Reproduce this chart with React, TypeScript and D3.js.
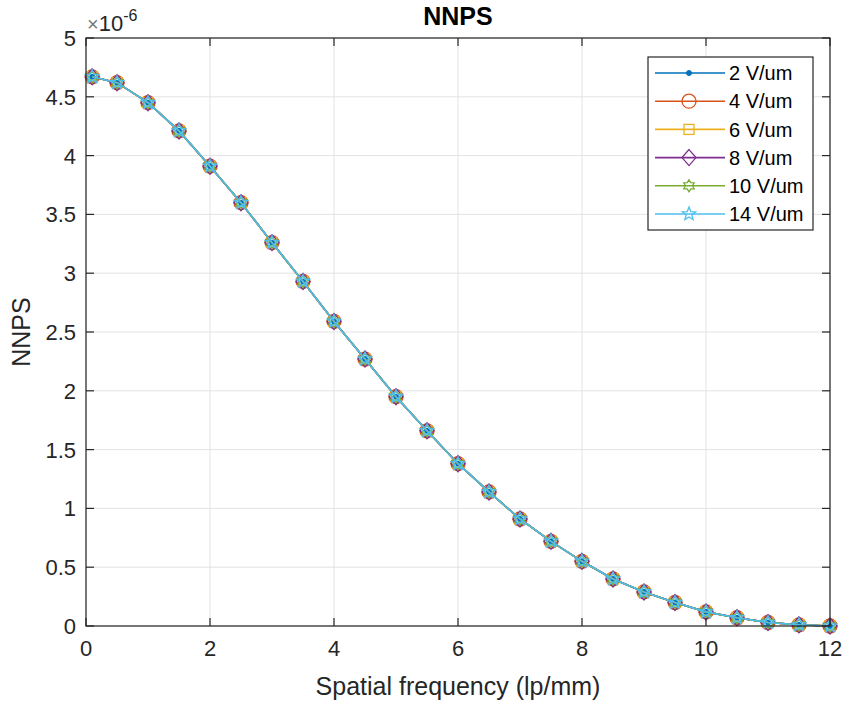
import React from "react";
import * as d3 from "d3";

// spatial frequency (lp/mm)
const freqs = [0.1, 0.5, 1, 1.5, 2, 2.5, 3, 3.5, 4, 4.5, 5, 5.5, 6, 6.5, 7, 7.5, 8, 8.5, 9, 9.5, 10, 10.5, 11, 11.5, 12];
// NNPS values (x 1e-6) - all fields overlap in the figure
const nnps = [4.67, 4.62, 4.45, 4.21, 3.91, 3.6, 3.26, 2.93, 2.59, 2.27, 1.95, 1.66, 1.38, 1.14, 0.91, 0.72, 0.55, 0.4, 0.29, 0.2, 0.12, 0.07, 0.03, 0.01, 0.0];

const seriesNames = ["2 V/um", "4 V/um", "6 V/um", "8 V/um", "10 V/um", "14 V/um"];
const seriesColors = ["#0072BD", "#D95319", "#EDB120", "#7E2F8E", "#77AC30", "#4DBEEE"];
const seriesMarkers = ["point", "circle", "square", "diamond", "hexagram", "pentagram"];
const seriesValues = [nnps, nnps, nnps, nnps, nnps, nnps];

const xTicks = [0, 2, 4, 6, 8, 10, 12];
const yTicks = [0, 0.5, 1, 1.5, 2, 2.5, 3, 3.5, 4, 4.5, 5];

const W = 846, H = 702;
const margin = { left: 86, right: 16, top: 38, bottom: 76 };
const font = "'Liberation Sans', Arial, Helvetica, sans-serif";
const axisColor = "#262626";

function starPath(points: number, outer: number, inner: number) {
  const pts: [number, number][] = [];
  for (let i = 0; i < points * 2; i++) {
    const r = i % 2 === 0 ? outer : inner;
    const a = -Math.PI / 2 + (i * Math.PI) / points;
    pts.push([r * Math.cos(a), r * Math.sin(a)]);
  }
  return "M" + pts.map((p) => p.join(",")).join("L") + "Z";
}

function Marker({ type, x, y, color }: { type: string; x: number; y: number; color: string }) {
  const common = { fill: "none", stroke: color, strokeWidth: 1.3 };
  const t = `translate(${x},${y})`;
  if (type === "point") return <circle cx={x} cy={y} r={2.5} fill={color} stroke={color} />;
  if (type === "circle") return <circle cx={x} cy={y} r={7} {...common} />;
  if (type === "square") return <rect x={x - 5} y={y - 5} width={10} height={10} {...common} />;
  if (type === "diamond") return <path transform={t} d="M0,-8L7,0L0,8L-7,0Z" {...common} />;
  if (type === "hexagram") return <path transform={t} d={starPath(6, 6, 3.6)} {...common} />;
  return <path transform={t} d={starPath(5, 7, 3)} {...common} />;
}

export default function App() {
  const iw = W - margin.left - margin.right;
  const ih = H - margin.top - margin.bottom;
  const x = d3.scaleLinear().domain([0, 12]).range([margin.left, margin.left + iw]);
  const y = d3.scaleLinear().domain([0, 5]).range([margin.top + ih, margin.top]);
  const line = d3
    .line<number>()
    .x((_, i) => x(freqs[i]))
    .y((d) => y(d));

  const legX = 648, legY = 57, legW = 165, legRow = 28.2;

  return (
    <svg width={W} height={H} style={{ position: "absolute", left: 0, top: 0, background: "#fff", fontFamily: font }}>
      <rect x={margin.left} y={margin.top} width={iw} height={ih} fill="#fff" />
      {/* grid */}
      {xTicks.map((t) => (
        <line key={"gx" + t} x1={x(t)} x2={x(t)} y1={margin.top} y2={margin.top + ih} stroke="#e3e3e3" strokeWidth={1} />
      ))}
      {yTicks.map((t) => (
        <line key={"gy" + t} x1={margin.left} x2={margin.left + iw} y1={y(t)} y2={y(t)} stroke="#e3e3e3" strokeWidth={1} />
      ))}
      {/* series */}
      {seriesValues.map((vals, si) => (
        <g key={si}>
          <path d={line(vals) || ""} fill="none" stroke={seriesColors[si]} strokeWidth={1.6} />
          {vals.map((v, i) => (
            <Marker key={i} type={seriesMarkers[si]} x={x(freqs[i])} y={y(v)} color={seriesColors[si]} />
          ))}
        </g>
      ))}
      {/* box and ticks */}
      <rect x={margin.left} y={margin.top} width={iw} height={ih} fill="none" stroke={axisColor} strokeWidth={1.2} />
      {xTicks.map((t) => (
        <g key={"tx" + t}>
          <line x1={x(t)} x2={x(t)} y1={margin.top + ih} y2={margin.top + ih - 8} stroke={axisColor} strokeWidth={1.2} />
          <line x1={x(t)} x2={x(t)} y1={margin.top} y2={margin.top + 8} stroke={axisColor} strokeWidth={1.2} />
          <text x={x(t)} y={margin.top + ih + 30} textAnchor="middle" fontSize={22} fill={axisColor}>
            {t}
          </text>
        </g>
      ))}
      {yTicks.map((t) => (
        <g key={"ty" + t}>
          <line x1={margin.left} x2={margin.left + 8} y1={y(t)} y2={y(t)} stroke={axisColor} strokeWidth={1.2} />
          <line x1={margin.left + iw} x2={margin.left + iw - 8} y1={y(t)} y2={y(t)} stroke={axisColor} strokeWidth={1.2} />
          <text x={margin.left - 10} y={y(t)} dy="0.36em" textAnchor="end" fontSize={22} fill={axisColor}>
            {t}
          </text>
        </g>
      ))}
      {/* exponent */}
      <text x={margin.left + 1} y={31} fontSize={22} fill={axisColor}>
        <tspan fill="#777" fontSize={20}>×</tspan>10
        <tspan dy={-10} fontSize={16}>-6</tspan>
      </text>
      {/* title & labels */}
      <text x={margin.left + iw / 2} y={25} textAnchor="middle" fontSize={25} fontWeight="bold" fill="#000">
        NNPS
      </text>
      <text x={margin.left + iw / 2} y={695} textAnchor="middle" fontSize={25} fill={axisColor}>
        Spatial frequency (lp/mm)
      </text>
      <text transform={`translate(30,${margin.top + ih / 2}) rotate(-90)`} textAnchor="middle" fontSize={25} fill={axisColor}>
        NNPS
      </text>
      {/* legend */}
      <rect x={legX} y={legY} width={legW} height={173} fill="#fff" stroke={axisColor} strokeWidth={1.2} />
      {seriesNames.map((n, i) => {
        const ly = legY + 16 + i * legRow;
        return (
          <g key={n}>
            <line x1={legX + 7} x2={legX + 77} y1={ly} y2={ly} stroke={seriesColors[i]} strokeWidth={1.6} />
            <Marker type={seriesMarkers[i]} x={legX + 41} y={ly} color={seriesColors[i]} />
            <text x={legX + 81} y={ly} dy="0.36em" fontSize={20} fill="#000">
              {n}
            </text>
          </g>
        );
      })}
    </svg>
  );
}
